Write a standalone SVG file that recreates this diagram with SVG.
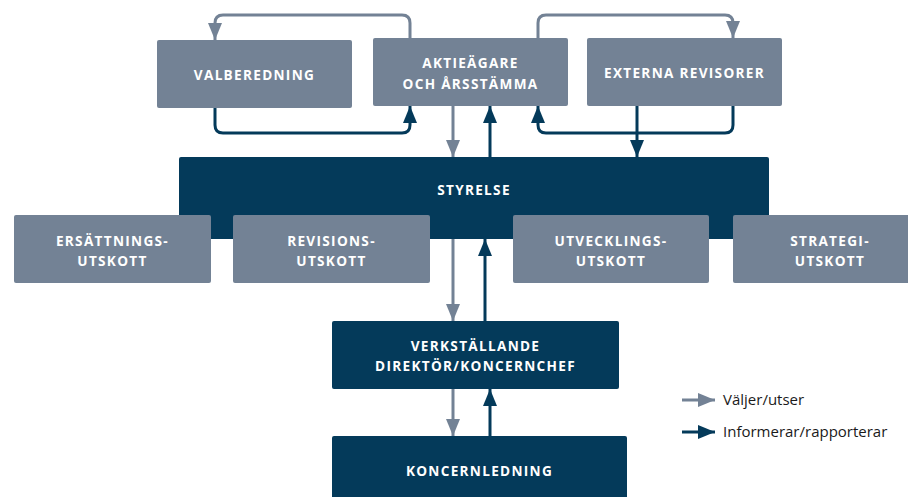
<svg xmlns="http://www.w3.org/2000/svg" width="908" height="497" viewBox="0 0 908 497">
<style>
.g{fill:#738295}
.d{fill:#043a5a}
.t{fill:#fff;font-family:"Open Sans","Liberation Sans",sans-serif;font-weight:700;font-size:13.6px;letter-spacing:1.3px;text-anchor:middle}
.cg{fill:none;stroke:#738295;stroke-width:3}
.cd{fill:none;stroke:#043a5a;stroke-width:3}
.lt{fill:#1a1a1a;font-family:"Open Sans","Liberation Sans",sans-serif;font-size:15px}
</style>
<defs>
<marker id="ag" markerUnits="userSpaceOnUse" markerWidth="18" markerHeight="15" refX="17" refY="7" orient="auto"><path d="M0,0 L17,7 L0,14 z" fill="#738295"/></marker>
<marker id="ad" markerUnits="userSpaceOnUse" markerWidth="18" markerHeight="15" refX="17" refY="7" orient="auto"><path d="M0,0 L17,7 L0,14 z" fill="#043a5a"/></marker>
</defs>
<g id="styrelse"><rect class="d" x="179" y="157" width="590" height="82" rx="2"/><text class="t" x="474" y="195">STYRELSE</text></g>
<g id="valberedning"><rect class="g" x="157" y="40" width="195" height="68" rx="2"/><text class="t" x="254.5" y="80">VALBEREDNING</text></g>
<g id="aktieagare"><rect class="g" x="373" y="38" width="195" height="68" rx="2"/><text class="t" x="470.5" y="68">AKTIEÄGARE</text><text class="t" x="470.5" y="89">OCH ÅRSSTÄMMA</text></g>
<g id="externa"><rect class="g" x="587" y="38" width="195" height="68" rx="2"/><text class="t" x="684.5" y="78">EXTERNA REVISORER</text></g>
<g id="ersattning"><rect class="g" x="14" y="215" width="197" height="68" rx="2"/><text class="t" x="112.5" y="246">ERSÄTTNINGS-</text><text class="t" x="112.5" y="266">UTSKOTT</text></g>
<g id="revision"><rect class="g" x="233" y="215" width="197" height="68" rx="2"/><text class="t" x="331.5" y="246">REVISIONS-</text><text class="t" x="331.5" y="266">UTSKOTT</text></g>
<g id="utveckling"><rect class="g" x="513" y="215" width="196" height="68" rx="2"/><text class="t" x="611" y="246">UTVECKLINGS-</text><text class="t" x="611" y="266">UTSKOTT</text></g>
<g id="strategi"><rect class="g" x="733" y="215" width="178" height="68" rx="2"/><text class="t" x="830" y="246">STRATEGI-</text><text class="t" x="830" y="266">UTSKOTT</text></g>
<g id="vd"><rect class="d" x="332" y="321" width="287" height="68" rx="2"/><text class="t" x="475.5" y="351">VERKSTÄLLANDE</text><text class="t" x="475.5" y="371">DIREKTÖR/KONCERNCHEF</text></g>
<g id="koncernledning"><rect class="d" x="332" y="436" width="295" height="70" rx="2"/><text class="t" x="479.5" y="476">KONCERNLEDNING</text></g>
<g id="connectors">
<path class="cg" d="M410,38 V23 Q410,15 402,15 H223 Q215,15 215,23 V40" marker-end="url(#ag)"/>
<path class="cd" d="M215,108 V125 Q215,133 223,133 H402 Q410,133 410,125 V106" marker-end="url(#ad)"/>
<path class="cg" d="M538,38 V23 Q538,15 546,15 H725 Q733,15 733,23 V38" marker-end="url(#ag)"/>
<path class="cd" d="M733,106 V125 Q733,133 725,133 H546 Q538,133 538,125 V106" marker-end="url(#ad)"/>
<path class="cd" d="M637,106 V157" marker-end="url(#ad)"/>
<path class="cg" d="M453,106 V157" marker-end="url(#ag)"/>
<path class="cd" d="M490,157 V106" marker-end="url(#ad)"/>
<path class="cg" d="M453,239 V321" marker-end="url(#ag)"/>
<path class="cd" d="M485,321 V239" marker-end="url(#ad)"/>
<path class="cg" d="M453,389 V436" marker-end="url(#ag)"/>
<path class="cd" d="M490,436 V389" marker-end="url(#ad)"/>
</g>
<g id="legend">
<path class="cg" d="M682,400 H715" marker-end="url(#ag)"/>
<text class="lt" x="723" y="405">Väljer/utser</text>
<path class="cd" d="M682,432 H715" marker-end="url(#ad)"/>
<text class="lt" x="723" y="437">Informerar/rapporterar</text>
</g>
</svg>
